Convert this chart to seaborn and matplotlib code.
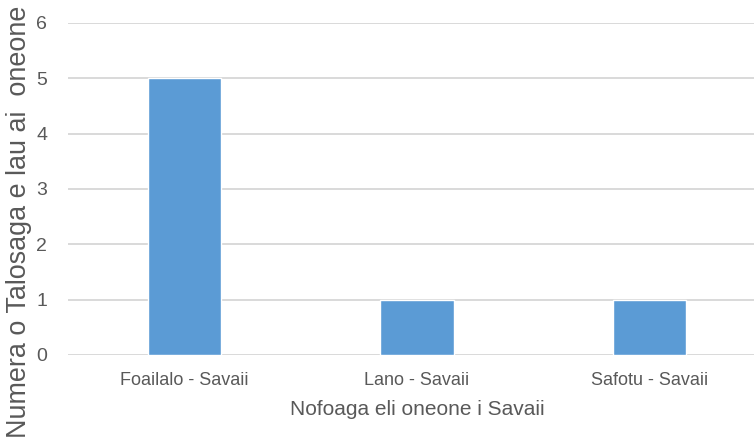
import matplotlib
matplotlib.use("Agg")
import matplotlib.pyplot as plt
import pandas as pd
import seaborn as sns

categories = ["Foailalo - Savaii", "Lano - Savaii", "Safotu - Savaii"]
counts = [5, 1, 1]
y_ticks = [0, 1, 2, 3, 4, 5, 6]

df = pd.DataFrame({"place": categories, "count": counts})

sns.set_style("white")
plt.rcParams["font.family"] = ["Liberation Sans", "DejaVu Sans"]

fig = plt.figure(figsize=(7.54, 4.42), dpi=100)
ax = fig.add_axes([0.0902, 0.197, 0.9254, 0.751])

sns.barplot(data=df, x="place", y="count", color="#5B9BD5", width=0.315,
            saturation=1, ax=ax, zorder=3)

ax.set_ylim(0, 6)
ax.set_yticks(y_ticks)
ax.yaxis.grid(True, color="#D9D9D9", linewidth=1.4, zorder=0)
ax.set_axisbelow(True)
for side in ["top", "right", "left", "bottom"]:
    ax.spines[side].set_visible(False)
ax.tick_params(axis="both", length=0, colors="#595959", labelsize=13)
ax.tick_params(axis="y", labelsize=14, pad=15)
ax.tick_params(axis="x", pad=12)

ax.set_xlabel("Nofoaga eli oneone i Savaii", fontsize=15, color="#595959", labelpad=8)
ax.set_ylabel("Numera o Talosaga e lau ai  oneone", fontsize=19.4, color="#595959")
ax.yaxis.set_label_coords(-0.052, 0.40)

fig.savefig("out.png", dpi=100)
